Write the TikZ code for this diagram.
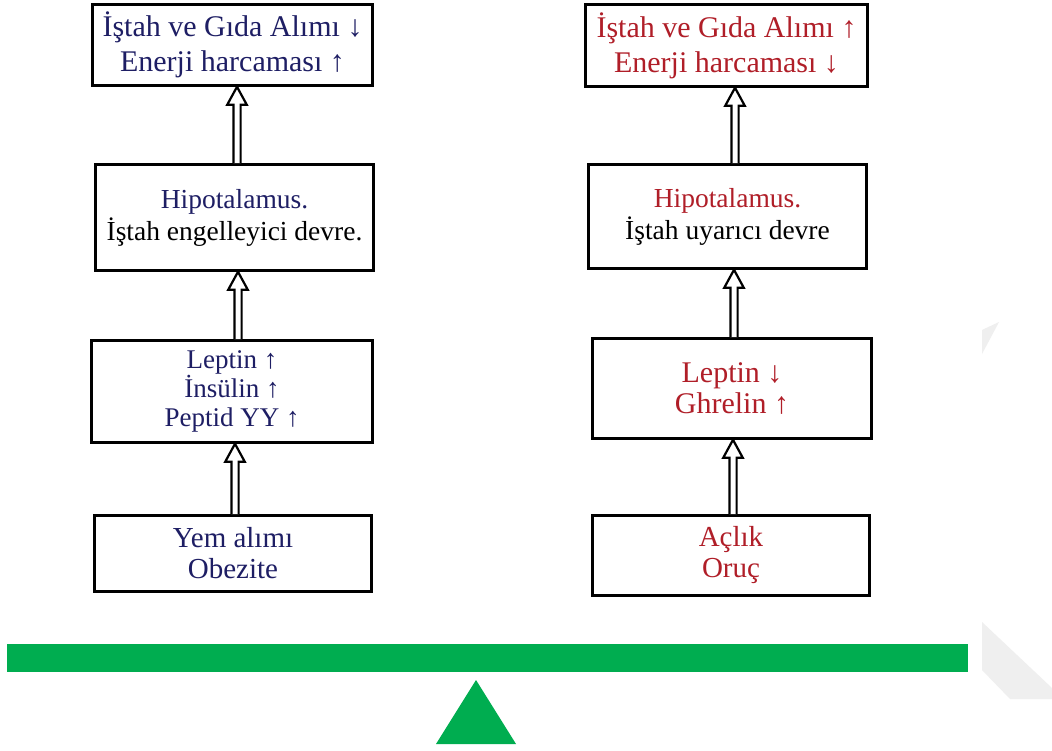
\documentclass[tikz,border=0pt]{standalone}
\usepackage{fontspec}
\setmainfont{Liberation Serif}
\usetikzlibrary{calc}
\definecolor{navy}{HTML}{1E1E64}
\definecolor{darkred}{HTML}{B01E28}
\definecolor{scalegreen}{HTML}{00AD50}
\definecolor{wmark}{HTML}{EFEFEF}
\tikzset{
  box/.style={draw, line width=2.6pt, align=center, inner sep=0pt, fill=white},
  dblarrow/.style={draw=black, line width=2.2pt, line join=miter, fill=white},
  fA/.style={font=\fontsize{30}{35}\selectfont},
  fB/.style={font=\fontsize{27.5}{32}\selectfont},
  fC/.style={font=\fontsize{27}{29}\selectfont},
  fD/.style={font=\fontsize{30}{31}\selectfont},
  fE/.style={font=\fontsize{29}{31}\selectfont},
}
\newcommand\hollowup[3]{% #1 lower node, #2 upper node, #3 x coordinate
  \draw[dblarrow]
    ($(#1.north -| #3)+(-3.6,0)$) -- ($(#2.south -| #3)+(-3.6,18)$) --
    ($(#2.south -| #3)+(-9.8,18)$) -- (#2.south -| #3) --
    ($(#2.south -| #3)+(9.8,18)$) -- ($(#2.south -| #3)+(3.6,18)$) --
    ($(#1.north -| #3)+(3.6,0)$);}
\begin{document}
\begin{tikzpicture}[x=1pt,y=-1pt]
\useasboundingbox (0,0) rectangle (1052,751);
\fill[white] (0,0) rectangle (1052,751);
% faint watermark shapes
\fill[wmark] (982,622) -- (1052,688) -- (1052,699) -- (1010,699) -- (982,670) -- cycle;
\fill[wmark] (982,330) -- (999,322) -- (982,354) -- cycle;
% left column
\node[box, fA, text=navy, minimum width=280, minimum height=81] (L1) at (232.5,45)
  {İştah ve Gıda Alımı ↓\\Enerji harcaması ↑};
\node[box, fB, minimum width=278, minimum height=106] (L2) at (234.5,217.5)
  {\textcolor{navy}{Hipotalamus.}\\İştah engelleyici devre.};
\node[box, fC, text=navy, minimum width=281, minimum height=102] (L3) at (232,391.5)
  {Leptin ↑\\İnsülin ↑\\Peptid YY ↑};
\node[box, fE, text=navy, minimum width=277, minimum height=76] (L4) at (233,553.5)
  {Yem alımı\\Obezite};
% right column
\node[box, fA, text=darkred, minimum width=282, minimum height=82] (R1) at (726.5,45.5)
  {İştah ve Gıda Alımı ↑\\Enerji harcaması ↓};
\node[box, fB, minimum width=278, minimum height=104] (R2) at (727.5,216.5)
  {\textcolor{darkred}{Hipotalamus.}\\İştah uyarıcı devre};
\node[box, fD, text=darkred, minimum width=279, minimum height=100] (R3) at (732,388.5)
  {Leptin ↓\\Ghrelin ↑};
\node[box, fE, text=darkred, minimum width=277, minimum height=80] (R4) at (731,555.5)
  {Açlık\\Oruç};
% arrow x positions
\coordinate (xa) at (237,0);
\coordinate (xb) at (238,0);
\coordinate (xc) at (235,0);
\coordinate (xd) at (735,0);
\coordinate (xe) at (734,0);
\coordinate (xf) at (733,0);
\hollowup{L2}{L1}{xa}
\hollowup{L3}{L2}{xb}
\hollowup{L4}{L3}{xc}
\hollowup{R2}{R1}{xd}
\hollowup{R3}{R2}{xe}
\hollowup{R4}{R3}{xf}
% balance
\fill[scalegreen] (7,644) rectangle (968,672);
\fill[scalegreen] (476,680) -- (516,744) -- (436,744) -- cycle;
\end{tikzpicture}
\end{document}
